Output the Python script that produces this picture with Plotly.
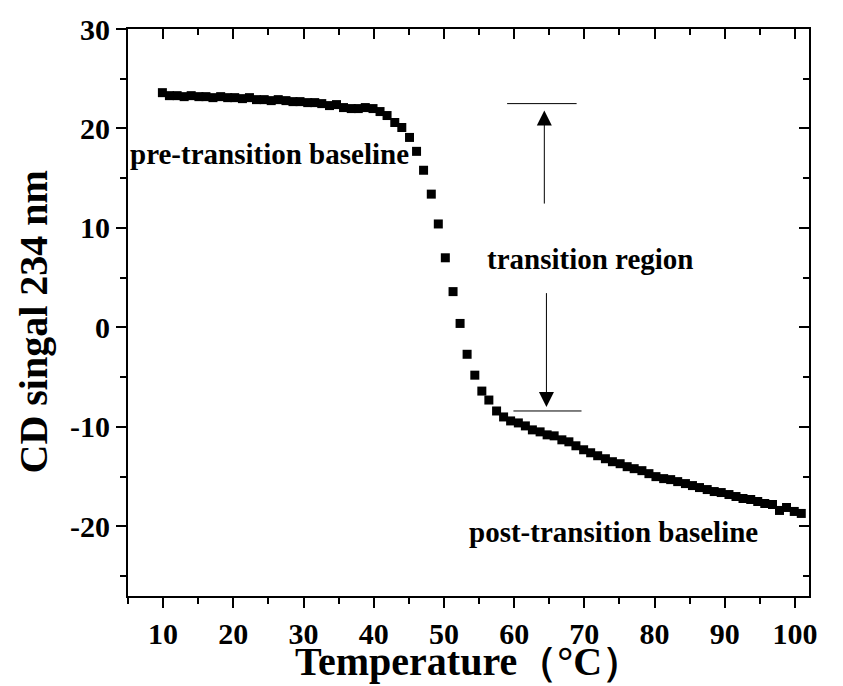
import plotly.graph_objects as go

# Temperature (°C) of each measured point
temps = [9.9, 10.9, 12.0, 13.0, 14.0, 15.1, 16.1, 17.1, 18.2, 19.2, 20.2, 21.3, 22.3, 23.3,
         24.4, 25.4, 26.4, 27.5, 28.5, 29.5, 30.6, 31.6, 32.6, 33.7, 34.7, 35.7, 36.8, 37.8,
         38.8, 39.9, 40.9, 41.9, 43.0, 44.0, 45.1, 46.1, 47.1, 48.2, 49.2, 50.2, 51.3, 52.3,
         53.3, 54.4, 55.4, 56.4, 57.5, 58.5, 59.5, 60.6, 61.6, 62.6, 63.7, 64.7, 65.7, 66.8,
         67.8, 68.8, 69.9, 70.9, 71.9, 73.0, 74.0, 75.1, 76.1, 77.1, 78.2, 79.2, 80.2, 81.3,
         82.3, 83.3, 84.4, 85.4, 86.4, 87.5, 88.5, 89.5, 90.6, 91.6, 92.6, 93.7, 94.7, 95.7,
         96.8, 97.8, 98.8, 99.9, 100.9]

# CD signal at 234 nm
cd_pre = [23.6, 23.3, 23.3, 23.2, 23.3, 23.2, 23.2, 23.1, 23.2, 23.1, 23.1, 23.0, 23.1, 22.9,
          22.9, 22.8, 22.9, 22.8, 22.7, 22.7, 22.6, 22.6, 22.5, 22.3, 22.4, 22.1, 22.0, 22.0,
          22.1, 22.0, 21.7]
cd_trans = [21.3, 20.6, 20.1, 19.1, 17.7, 15.8, 13.4, 10.4, 7.0, 3.6, 0.4, -2.7, -4.8, -6.4,
            -7.3, -8.4, -9.0]
cd_post = [-9.4, -9.6, -9.9, -10.3, -10.5, -10.8, -10.9, -11.3, -11.5, -11.9, -12.3, -12.6,
           -12.9, -13.2, -13.5, -13.7, -14.0, -14.2, -14.4, -14.7, -15.0, -15.2, -15.3, -15.5,
           -15.7, -15.9, -16.1, -16.3, -16.5, -16.6, -16.8, -17.0, -17.2, -17.3, -17.5, -17.7,
           -17.8, -18.4, -18.1, -18.5, -18.7]
cd = cd_pre + cd_trans + cd_post

x_ticks = [10, 20, 30, 40, 50, 60, 70, 80, 90, 100]
x_labels = ["10", "20", "30", "40", "50", "60", "70", "80", "90", "100"]
y_ticks = [-20, -10, 0, 10, 20, 30]
y_labels = ["-20", "-10", "0", "10", "20", "30"]
x_range = [5, 102]
y_range = [-27, 30]

FONT = "Liberation Serif"

fig = go.Figure()
fig.add_trace(go.Scatter(x=temps, y=cd, mode="markers",
                         marker=dict(symbol="square", size=9, color="black", line=dict(width=0)),
                         showlegend=False, hoverinfo="skip"))
fig.add_trace(go.Scatter(x=[], y=[], xaxis="x2", yaxis="y2", showlegend=False))

tickfont = dict(family=FONT, size=30, color="black", weight="bold")

fig.update_layout(
    width=843, height=686,
    margin=dict(l=128, r=34, t=27, b=90),
    paper_bgcolor="white", plot_bgcolor="white",
    xaxis=dict(range=x_range, tickvals=x_ticks, ticktext=x_labels, ticks="outside", ticklen=10,
               tickwidth=2, tickcolor="black", showline=True, linewidth=2, linecolor="black",
               mirror=True, showgrid=False, zeroline=False, tickfont=tickfont,
               minor=dict(ticks="outside", ticklen=6, tickwidth=2, tickcolor="black",
                          dtick=5, tick0=0, showgrid=False)),
    yaxis=dict(range=y_range, tickvals=y_ticks, ticktext=y_labels, ticks="outside", ticklen=10,
               tickwidth=2, tickcolor="black", showline=True, linewidth=2, linecolor="black",
               mirror=True, showgrid=False, zeroline=False, tickfont=tickfont,
               minor=dict(ticks="outside", ticklen=6, tickwidth=2, tickcolor="black",
                          dtick=5, tick0=0, showgrid=False)),
    xaxis2=dict(range=x_range, overlaying="x", side="top", tickvals=x_ticks, ticks="inside",
                ticklen=10, tickwidth=2, tickcolor="black", showticklabels=False,
                showgrid=False, zeroline=False, showline=False,
                minor=dict(ticks="inside", ticklen=6, tickwidth=2, tickcolor="black",
                           dtick=5, tick0=0, showgrid=False)),
    yaxis2=dict(range=y_range, overlaying="y", side="right", tickvals=y_ticks, ticks="inside",
                ticklen=10, tickwidth=2, tickcolor="black", showticklabels=False,
                showgrid=False, zeroline=False, showline=False,
                minor=dict(ticks="inside", ticklen=6, tickwidth=2, tickcolor="black",
                           dtick=5, tick0=0, showgrid=False)),
)

ann_font = dict(family=FONT, size=29, color="black", weight="bold")
title_font = dict(family=FONT, size=40, color="black", weight="bold")

annotations = [
    dict(x=25.2, y=17.4, xref="x", yref="y", text="pre-transition baseline", showarrow=False,
         font=ann_font, xanchor="center", yanchor="middle"),
    dict(x=70.9, y=6.9, xref="x", yref="y", text="transition region", showarrow=False,
         font=ann_font, xanchor="center", yanchor="middle"),
    dict(x=74.2, y=-20.6, xref="x", yref="y", text="post-transition baseline", showarrow=False,
         font=ann_font, xanchor="center", yanchor="middle"),
    # arrows
    dict(x=64.3, y=21.8, ax=64.3, ay=12.3, xref="x", yref="y", axref="x", ayref="y", text="",
         showarrow=True, arrowhead=2, arrowsize=3, arrowwidth=1, arrowcolor="black"),
    dict(x=64.6, y=-8.0, ax=64.6, ay=3.6, xref="x", yref="y", axref="x", ayref="y", text="",
         showarrow=True, arrowhead=2, arrowsize=3, arrowwidth=1, arrowcolor="black"),
    # axis titles
    dict(x=0.5, y=0, xref="paper", yref="paper", yshift=-65, text="Temperature（°C）",
         showarrow=False, font=title_font, xanchor="center", yanchor="middle"),
    dict(x=0, y=0.5, xref="paper", yref="paper", xshift=-95, yshift=-10,
         text="CD singal 234 nm", showarrow=False, font=title_font, textangle=-90,
         xanchor="center", yanchor="middle"),
]
fig.update_layout(annotations=annotations)

fig.add_shape(type="line", x0=59.0, x1=68.9, y0=22.5, y1=22.5, xref="x", yref="y",
              line=dict(color="black", width=1))
fig.add_shape(type="line", x0=59.9, x1=69.6, y0=-8.4, y1=-8.4, xref="x", yref="y",
              line=dict(color="black", width=1))

fig.write_html("out.html")
